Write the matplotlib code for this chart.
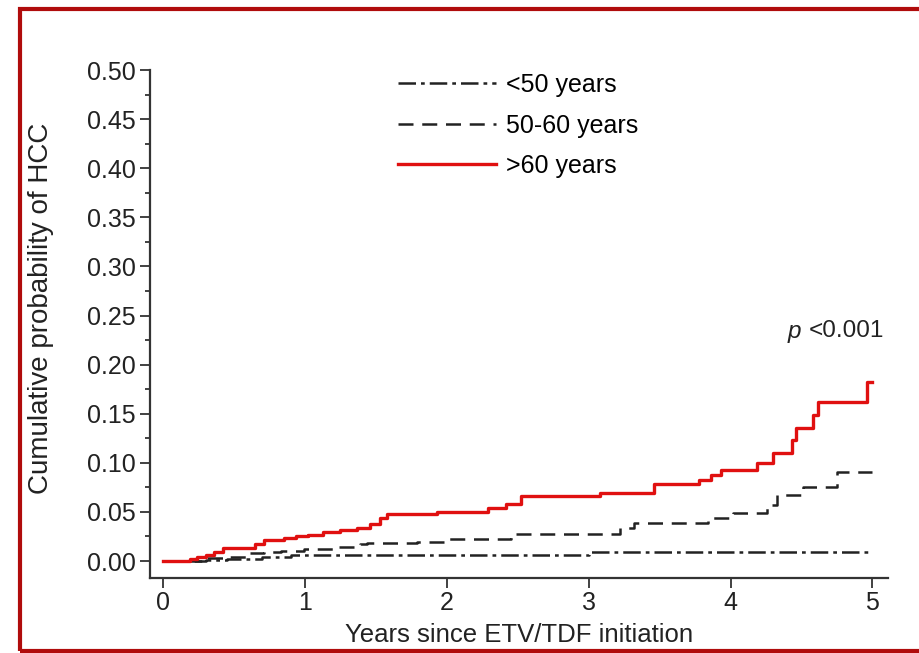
import matplotlib.pyplot as plt
from matplotlib.patches import Rectangle
from matplotlib.ticker import MultipleLocator

plt.rcParams['font.family'] = ['Liberation Sans', 'DejaVu Sans']

# Kaplan-Meier style cumulative incidence by age group (step times in years)
t_lt50 = [0, 0.30, 0.45, 0.70, 0.90, 3.00, 5.0]
p_lt50 = [0, 0.001, 0.002, 0.004, 0.006, 0.009, 0.009]

t_50_60 = [0, 0.30, 0.43, 0.59, 0.71, 0.83, 0.99, 1.23, 1.39, 1.44, 1.79,
           2.00, 2.45, 3.22, 3.32, 3.84, 4.02, 4.26, 4.33, 4.51, 4.75, 5.0]
p_50_60 = [0, 0.003, 0.004, 0.008, 0.009, 0.010, 0.012, 0.014, 0.017, 0.018, 0.019,
           0.022, 0.028, 0.034, 0.039, 0.044, 0.049, 0.057, 0.067, 0.075, 0.091, 0.091]

t_gt60 = [0, 0.19, 0.24, 0.30, 0.36, 0.42, 0.65, 0.71, 0.85, 0.94, 1.02, 1.13,
          1.25, 1.37, 1.46, 1.53, 1.58, 1.93, 2.29, 2.42, 2.52, 3.08, 3.46, 3.78,
          3.86, 3.93, 4.19, 4.30, 4.43, 4.46, 4.58, 4.62, 4.96, 5.0]
p_gt60 = [0, 0.002, 0.004, 0.006, 0.009, 0.013, 0.017, 0.021, 0.023, 0.025, 0.026, 0.030,
          0.032, 0.034, 0.038, 0.044, 0.048, 0.050, 0.054, 0.058, 0.066, 0.069, 0.078, 0.083,
          0.088, 0.093, 0.100, 0.110, 0.123, 0.135, 0.149, 0.162, 0.182, 0.182]

labels = ['<50 years', '50-60 years', '>60 years']
x_ticks = [0, 1, 2, 3, 4, 5]

W, H = 919, 653
fig = plt.figure(figsize=(W / 100, H / 100), dpi=100)
ax = fig.add_axes([150 / W, 1 - 578 / H, 738 / W, 508 / H])

ax.plot(t_lt50, p_lt50, drawstyle='steps-post', color='#222222', lw=1.8,
        dashes=(7, 2, 1.5, 2), label=labels[0])
ax.plot(t_50_60, p_50_60, drawstyle='steps-post', color='#222222', lw=1.8,
        dashes=(6, 3.5), label=labels[1])
ax.plot(t_gt60, p_gt60, drawstyle='steps-post', color='#e01010', lw=2.4,
        label=labels[2])

ax.set_xlim(-0.092, 5.11)
ax.set_ylim(-0.0173, 0.50)
ax.set_xticks(x_ticks)
ax.yaxis.set_major_locator(MultipleLocator(0.05))
ax.yaxis.set_minor_locator(MultipleLocator(0.025))
ax.yaxis.set_major_formatter(lambda v, pos: f'{v:.2f}')

for side in ['top', 'right']:
    ax.spines[side].set_visible(False)
for side in ['left', 'bottom']:
    ax.spines[side].set_linewidth(1.6)
    ax.spines[side].set_color('#333333')

ax.tick_params(axis='both', which='major', length=7, width=1.3, color='#333333',
               labelsize=18, labelcolor='#222222')
ax.tick_params(axis='y', which='minor', length=3.5, width=1.3, color='#333333')
ax.tick_params(axis='y', which='major', pad=3)
ax.tick_params(axis='x', which='major', pad=2)

ax.set_xlabel('Years since ETV/TDF initiation', fontsize=18.5, color='#222222', labelpad=6)
ax.set_ylabel('Cumulative probability of HCC', fontsize=20, color='#222222')
ax.yaxis.set_label_coords(-0.13, 0.531)

ax.text(4.50, 0.234, 'p', style='italic', ha='right', va='center', fontsize=17.5, color='#222222')
ax.text(4.55, 0.234, '<0.001', ha='left', va='center', fontsize=17.5, color='#222222')

ax.legend(loc='upper left', bbox_to_anchor=(398 / W, 1 - 73 / H),
          bbox_transform=fig.transFigure, frameon=False, fontsize=18,
          handlelength=3.9, handletextpad=0.4, labelspacing=0.66,
          borderpad=0, borderaxespad=0)

# dark red border around the panel
fig.add_artist(Rectangle((20 / W, 2 / H), (W + 20) / W, (H - 11) / H,
                         transform=fig.transFigure, fill=False,
                         edgecolor='#b00c0c', lw=3))

fig.savefig('out.png', dpi=100)
